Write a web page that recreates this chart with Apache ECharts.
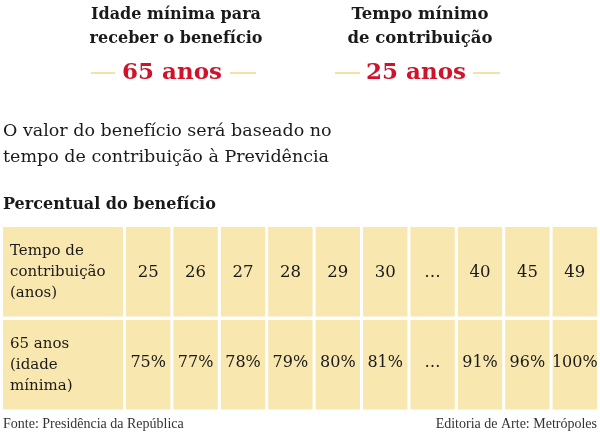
<!DOCTYPE html>
<html><head><meta charset="utf-8">
<script src="https://cdn.jsdelivr.net/npm/echarts@6/dist/echarts.min.js"></script>
<style>html,body{margin:0;padding:0;background:#fff}#c{width:600px;height:432px}</style>
</head><body><div id="c"></div>
<script>
// ---- data ----
const tempoLabels = ['25','26','27','28','29','30','…','40','45','49'];
const percentuais = [75, 77, 78, 79, 80, 81, null, 91, 96, 100];
const rowKeys = ['tempo', 'percentual'];
const rowLabels = ['Tempo de\ncontribuição\n(anos)', '65 anos\n(idade\nmínima)'];
const idadeMinima = '65 anos';
const contribMinima = '25 anos';

// ---- style ----
const FONT = '"DejaVu Serif", "Liberation Serif", serif';
const FONT2 = '"Liberation Serif", "DejaVu Serif", serif';
const CELL = '#f8e7af';
const RED = '#d0122a';
const INK = '#1a1a1a';
const GX = 3, GY = 3.5;

const percentText = percentuais.map(v => v == null ? '…' : v + '%');
const cellData = [];
const cellTexts = [];
tempoLabels.forEach((t, i) => {
  cellData.push([i, 0]); cellTexts.push(t);
  cellData.push([i, 1]); cellTexts.push(percentText[i]);
});

function renderCell(params, api) {
  const c = api.coord([api.value(0), api.value(1)]);
  const s = api.size([1, 1]);
  const x0 = c[0] - s[0] / 2, y0 = c[1] - s[1] / 2;
  const w = s[0] - GX, h = s[1] - GY;
  const isPct = api.value(1) === 1;
  return {
    type: 'group',
    children: [
      { type: 'rect', shape: { x: x0, y: y0, width: w, height: h }, style: { fill: CELL } },
      { type: 'text', style: { x: x0 + w / 2, y: y0 + h / 2 + (isPct ? -2 : 1), text: cellTexts[params.dataIndex],
        font: (isPct ? '16px ' : '16.5px ') + FONT, fill: INK, align: 'center', verticalAlign: 'middle' } }
    ]
  };
}
function renderHead(params, api) {
  const c = api.coord([api.value(0), api.value(1)]);
  const s = api.size([1, 1]);
  const x0 = c[0] - s[0] / 2, y0 = c[1] - s[1] / 2;
  const w = s[0] - GX, h = s[1] - GY;
  return {
    type: 'group',
    children: [
      { type: 'rect', shape: { x: x0, y: y0, width: w, height: h }, style: { fill: CELL } },
      { type: 'text', style: { x: x0 + 7, y: y0 + h / 2, text: rowLabels[params.dataIndex],
        font: '15px ' + FONT, lineHeight: 21, fill: INK, align: 'left', verticalAlign: 'middle' } }
    ]
  };
}

const chart = echarts.init(document.getElementById('c'), null, { renderer: 'canvas' });
chart.setOption({
  animation: false,
  backgroundColor: '#fff',
  grid: [
    { left: 3, top: 227, width: 123, height: 186 },
    { left: 126, top: 227, width: 475, height: 186 }
  ],
  xAxis: [
    { type: 'category', gridIndex: 0, data: ['head'], show: false },
    { type: 'category', gridIndex: 1, data: tempoLabels, show: false }
  ],
  yAxis: [
    { type: 'category', gridIndex: 0, data: rowKeys, inverse: true, show: false },
    { type: 'category', gridIndex: 1, data: rowKeys, inverse: true, show: false }
  ],
  series: [
    { type: 'custom', xAxisIndex: 0, yAxisIndex: 0, renderItem: renderHead, data: [[0, 0], [0, 1]] },
    { type: 'custom', xAxisIndex: 1, yAxisIndex: 1, renderItem: renderCell, data: cellData }
  ],
  graphic: [
    { type: 'text', x: 176, y: 27, style: { text: 'Idade mínima para\nreceber o benefício', font: 'bold 16px ' + FONT,
      lineHeight: 24, fill: INK, align: 'center', verticalAlign: 'middle' } },
    { type: 'text', x: 420, y: 27, style: { text: 'Tempo mínimo\nde contribuição', font: 'bold 16.5px ' + FONT,
      lineHeight: 24, fill: INK, align: 'center', verticalAlign: 'middle' } },
    { type: 'text', x: 172, y: 73, style: { text: idadeMinima, font: 'bold 23px ' + FONT, fill: RED, align: 'center', verticalAlign: 'middle' } },
    { type: 'text', x: 416, y: 73, style: { text: contribMinima, font: 'bold 23px ' + FONT, fill: RED, align: 'center', verticalAlign: 'middle' } },
    { type: 'line', shape: { x1: 91, y1: 73, x2: 115, y2: 73 }, style: { stroke: '#f4e2a2', lineWidth: 2 } },
    { type: 'line', shape: { x1: 230, y1: 73, x2: 256, y2: 73 }, style: { stroke: '#f4e2a2', lineWidth: 2 } },
    { type: 'line', shape: { x1: 335, y1: 73, x2: 360, y2: 73 }, style: { stroke: '#f4e2a2', lineWidth: 2 } },
    { type: 'line', shape: { x1: 473, y1: 73, x2: 500, y2: 73 }, style: { stroke: '#f4e2a2', lineWidth: 2 } },
    { type: 'text', x: 3, y: 144, style: { text: 'O valor do benefício será baseado no\ntempo de contribuição à Previdência',
      font: '17.5px ' + FONT, lineHeight: 26, fill: INK, align: 'left', verticalAlign: 'middle' } },
    { type: 'text', x: 3, y: 205, style: { text: 'Percentual do benefício', font: 'bold 16px ' + FONT, fill: INK, align: 'left', verticalAlign: 'middle' } },
    { type: 'text', x: 3, y: 424, style: { text: 'Fonte: Presidência da República', font: '14px ' + FONT2, fill: '#333', align: 'left', verticalAlign: 'middle' } },
    { type: 'text', x: 597, y: 424, style: { text: 'Editoria de Arte: Metrópoles', font: '14px ' + FONT2, fill: '#333', align: 'right', verticalAlign: 'middle' } }
  ]
});
</script></body></html>
